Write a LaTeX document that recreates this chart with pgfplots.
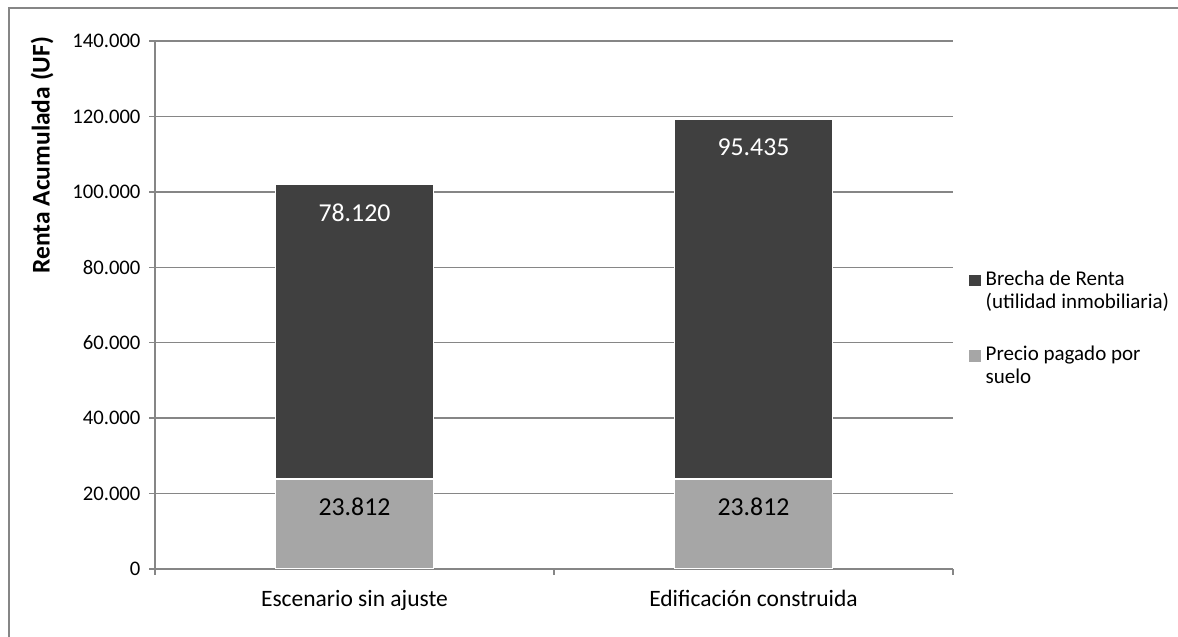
\documentclass[border=0pt]{standalone}
\usepackage{fontspec}
\setmainfont{Carlito}
\usepackage{pgfplots}
\pgfplotsset{compat=1.18}
\definecolor{darkbar}{HTML}{404040}
\definecolor{lightbar}{HTML}{A6A6A6}
\definecolor{gridgray}{HTML}{868686}
\tikzset{
  segtop/.style={/utils/exec={\begingroup\pgfkeys{/pgf/fpu=true,/pgf/fpu/output format=fixed}%
    \pgfmathparse{(\rawy)*0.00188571-28}\xdef\myshift{\pgfmathresult}\endgroup},
    yshift=\myshift bp}
}
\begin{document}
\begin{tikzpicture}
\useasboundingbox (0,0) rectangle (1178bp,637bp);
\fill[white] (0,0) rectangle (1178bp,637bp);
\draw[gridgray, line width=1.3bp] (9bp,-2bp) -- (9bp,629bp) -- (1180bp,629bp);
\begin{axis}[
  at={(155bp,68bp)}, anchor=south west,
  scale only axis, width=798bp, height=528bp,
  ybar stacked, bar width=158bp,
  xmin=-0.5, xmax=1.5, ymin=0, ymax=140000,
  xtick={-0.5,0.5,1.5}, x tick label as interval,
  xticklabels={Escenario sin ajuste, Edificación construida},
  ytick={0,20000,40000,60000,80000,100000,120000,140000},
  scaled y ticks=false,
  /pgf/number format/.cd, fixed, 1000 sep={.}, assume math mode=true, /pgfplots/.cd,
  axis x line*=bottom, axis y line*=left,
  axis line style={-, gridgray, line width=1.3bp},
  tick align=outside, major tick length=6bp,
  tick style={gridgray, line width=1.3bp},
  ymajorgrids, grid style={gridgray, line width=1.3bp},
  yticklabel style={font=\fontsize{20.7bp}{24bp}\selectfont, text=black, xshift=-5bp},
  xticklabel style={font=\fontsize{23.5bp}{27bp}\selectfont, text=black, yshift=-12bp},
  ylabel={Renta Acumulada (UF)},
  ylabel style={at={(axis description cs:-0.1416,0.784)}, anchor=center, rotate=0,
    font=\bfseries\fontsize{25.5bp}{29bp}\selectfont},
  legend style={at={(axis description cs:1.0163,0.572)}, anchor=north west,
    draw=none, fill=none, font=\fontsize{21bp}{23bp}\selectfont,
    row sep=32bp, cells={anchor=west, align=left}},
  reverse legend,
  visualization depends on={rawy \as \rawy},
]
\addplot[fill=lightbar, draw=white, line width=1.5bp,
  legend image code/.code={\fill[lightbar] (0bp,5bp) rectangle (10bp,15bp); \path (13bp,5bp);},
  point meta=explicit symbolic, nodes near coords,
  every node near coord/.append style={font=\fontsize{25.8bp}{29bp}\selectfont, text=black, anchor=center, segtop}]
  coordinates {(0,23812) [23.812] (1,23812) [23.812]};
\addlegendentry{Precio pagado por\\suelo}
\addplot[fill=darkbar, draw=white, line width=1.5bp,
  legend image code/.code={\fill[darkbar] (0bp,5bp) rectangle (10bp,15bp); \path (13bp,5bp);},
  point meta=explicit symbolic, nodes near coords,
  every node near coord/.append style={font=\fontsize{25.8bp}{29bp}\selectfont, text=white, anchor=center, segtop}]
  coordinates {(0,78120) [78.120] (1,95435) [95.435]};
\addlegendentry{Brecha de Renta\\(utilidad inmobiliaria)}
\end{axis}
\end{tikzpicture}
\end{document}
